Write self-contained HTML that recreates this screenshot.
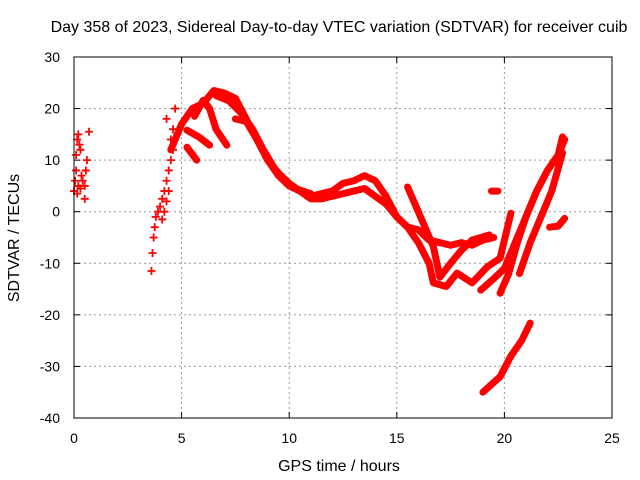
<!DOCTYPE html>
<html><head><meta charset="utf-8"><style>
body{margin:0;background:#fff}
svg{display:block;font-family:"Liberation Sans",sans-serif;font-size:14px}
.big{font-size:16px}
</style></head><body>
<svg id="c" width="640" height="480">
<rect x="0" y="0" width="640" height="480" fill="#fff"/>
<text class="big" x="339" y="32" text-anchor="middle">Day 358 of 2023, Sidereal Day-to-day VTEC variation (SDTVAR) for receiver cuib</text>
<text class="big" x="339" y="471" text-anchor="middle">GPS time / hours</text>
<text class="big" transform="translate(19,238) rotate(-90)" text-anchor="middle">SDTVAR / TECUs</text>
<g id="grid"></g>
<g id="ticks"></g>
<g id="series"></g>
<rect x="74" y="57" width="538" height="361" fill="none" stroke="#000" stroke-width="1"/>
</svg>
<script>
const xTicks=[0,5,10,15,20,25];
const yTicks=[30,20,10,0,-10,-20,-30,-40];
// traces: [hour, value]
const traceA=[[4.5,12],[5,17],[5.5,20],[6,21],[6.5,23.5],[7,23],[7.5,22],[8,18],[8.5,14],[9,10],[9.5,7],[10,5],[10.5,4],[11,3],[11.5,3.5],[12,4],[12.5,5.5],[13,6],[13.5,7],[14,6],[14.5,3],[15,-1],[15.5,-3],[16,-3.5],[16.5,-5.5],[17,-6],[17.5,-6.5],[18,-6],[18.5,-6.5],[19,-5.5],[19.5,-5]];
const traceA2=[[6.6,22.5],[7.2,21.5],[7.8,19],[8.3,16],[8.8,12],[9.3,8.5],[9.8,6],[10.3,4.5],[11,3.5]];
const traceB=[[5.6,18.5],[6,21.6],[6.3,20],[6.6,16],[7.1,12.9]];
const traceC=[[5.25,15.8],[5.8,14.5],[6.3,12.9]];
const traceD=[[5.25,12.5],[5.7,10]];
const traceE=[[7.5,18],[8,17.5],[8.5,14],[9,10],[9.5,7.5],[10,5.5],[10.5,4],[11,2.5],[11.5,2.5],[12,3],[13,4],[13.5,4.5],[14,3],[14.5,1.5],[15,-1],[15.5,-3],[16,-6],[16.5,-10],[16.7,-13.8],[17.3,-14.5],[17.8,-11.9],[18.5,-13.8],[19.2,-10.7],[19.8,-9]];
const traceF=[[15.5,4.8],[16,0],[16.7,-6.8],[17,-12.7],[17.5,-10],[18,-7.5],[18.5,-5.5],[19.3,-4.5]];
const traceG=[[18.9,-15.2],[19.5,-13],[20,-11],[20.5,-6],[21,-1],[21.5,4],[22,8],[22.5,11],[22.7,14.5]];
const traceH=[[19.8,-15.8],[20.2,-12],[20.6,-6],[21,-1],[21.5,4],[22,8],[22.5,11],[22.8,14]];
const traceI=[[19.8,-9],[20.3,-0.3]];
const traceJ=[[20.7,-12],[21.2,-6],[21.7,-1],[22.2,4],[22.7,11.4]];
const traceK=[[22.1,-3],[22.5,-2.8],[22.8,-1.3]];
const traceL=[[19,-35],[19.8,-32],[20.3,-28],[20.8,-25],[21.2,-21.6]];
const traceM=[[19.4,4],[19.7,4]];
const sparseLeft=[[0,4],[0.05,6],[0.1,11],[0.15,14],[0.2,15],[0.25,13],[0.3,12],[0.1,8],[0.2,5],[0.3,4.5],[0.4,6],[0.5,5],[0.5,2.5],[0.55,8],[0.6,10],[0.7,15.5],[0.15,3.5],[0.35,7]];
const sparseRise=[[3.6,-11.5],[3.65,-8],[3.7,-5],[3.75,-3],[3.8,-1],[3.9,0],[4,1],[4.1,2.5],[4.2,4],[4.3,6],[4.1,-1.5],[4.2,0],[4.3,2],[4.4,4],[4.4,8],[4.5,10],[4.6,12],[4.5,14],[4.6,16],[4.3,18],[4.7,20],[4.8,15],[4.9,16]];
const xs=v=>74+v*21.52, ys=v=>57+(30-v)*5.157;
const NS='http://www.w3.org/2000/svg';
const grid=document.getElementById('grid'),ticks=document.getElementById('ticks'),ser=document.getElementById('series');
function mk(t,a,p){const e=document.createElementNS(NS,t);for(const k in a)e.setAttribute(k,a[k]);p.appendChild(e);return e;}
xTicks.forEach(t=>{const x=xs(t);
 if(t>0&&t<25){const l=mk('line',{x1:x,y1:57,x2:x,y2:418,stroke:'#999','stroke-dasharray':'2,3'},grid);
 
 }
 mk('line',{x1:x,y1:418,x2:x,y2:412,stroke:'#000'},ticks);mk('line',{x1:x,y1:57,x2:x,y2:63,stroke:'#000'},ticks);
 const tx=mk('text',{x:x,y:443,'text-anchor':'middle'},ticks);tx.textContent=t;
 
 });
yTicks.forEach(t=>{const y=ys(t);
 if(t<30&&t>-40){const l=mk('line',{x1:74,y1:y,x2:612,y2:y,stroke:'#999','stroke-dasharray':'2,3'},grid);
 
 }
 mk('line',{x1:74,y1:y,x2:80,y2:y,stroke:'#000'},ticks);mk('line',{x1:612,y1:y,x2:606,y2:y,stroke:'#000'},ticks);
 const tx=mk('text',{x:60,y:y+5,'text-anchor':'end'},ticks);tx.textContent=t;
 
 });
[traceA,traceA2,traceB,traceC,traceD,traceE,traceF,traceG,traceH,traceI,traceJ,traceK,traceL,traceM].forEach(tr=>{
 const p=mk('polyline',{points:tr.map(d=>xs(d[0])+','+ys(d[1])).join(' '),fill:'none',stroke:'#f00','stroke-width':7,'stroke-linejoin':'round','stroke-linecap':'round'},ser);
 
 });
[sparseLeft,sparseRise].forEach(s=>s.forEach(d=>{const x=xs(d[0]),y=ys(d[1]);
 const p=mk('path',{d:`M${x-4},${y}H${x+4}M${x},${y-4}V${y+4}`,stroke:'#f00','stroke-width':1.8},ser);
 
 }));
</script>
</body></html>
